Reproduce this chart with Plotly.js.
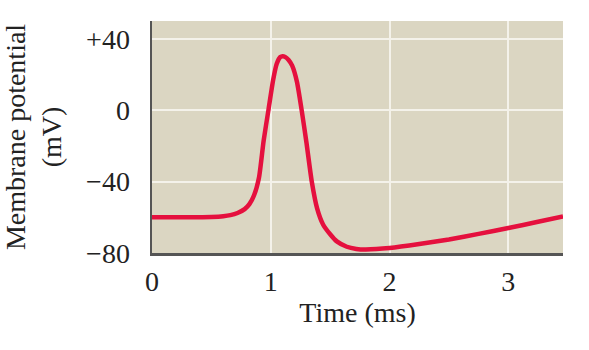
<!DOCTYPE html>
<html>
<head>
<meta charset="utf-8">
<script src="https://cdn.plot.ly/plotly-3.0.1.min.js"></script>
<style>html,body{margin:0;padding:0;background:#fff;}#chart{width:589px;height:350px;}</style>
</head>
<body>
<div id="chart"></div>
<script>
const timeMs = [0, 0.3, 0.5, 0.6, 0.66, 0.72, 0.78, 0.82, 0.86, 0.9, 0.94, 0.98, 1.02, 1.05, 1.08, 1.1, 1.12, 1.15, 1.18, 1.22, 1.26, 1.3, 1.345, 1.39, 1.44, 1.5, 1.556, 1.64, 1.72, 1.8, 2.0, 2.25, 2.5, 2.75, 3.0, 3.25, 3.46];
const potential = [-60, -60, -59.8, -59.4, -58.8, -57.6, -55.4, -52.6, -47.5, -38, -17, 0, 17, 26, 29.8, 30.3, 29.9, 28.2, 25, 16, 0, -18, -40, -55, -64, -69.5, -73.5, -76.5, -77.7, -78, -77.2, -75, -72.4, -69.3, -66, -62.5, -59.5];
const xTickVals = [0, 1, 2, 3];
const xTickText = ['0', '1', '2', '3'];
const yTickVals = [-80, -40, 0, 40];
const yTickText = ['\u221280', '\u221240', '0', '+40'];

const serif = 'Liberation Serif, Times New Roman, serif';
const trace = {
  x: timeMs, y: potential, type: 'scatter', mode: 'lines',
  line: {color: '#e5103e', width: 4.5, shape: 'spline', smoothing: 0.6},
  hoverinfo: 'skip'
};
const layout = {
  width: 589, height: 350,
  margin: {l: 152, r: 26, t: 21, b: 97},
  paper_bgcolor: '#ffffff',
  plot_bgcolor: '#dbd6c2',
  showlegend: false,
  xaxis: {
    range: [0, 3.46], tickvals: xTickVals, ticktext: xTickText,
    showgrid: true, gridcolor: '#f4f2ea', gridwidth: 2,
    showline: true, linecolor: '#555555', linewidth: 2.5,
    ticks: '', ticklabelstandoff: 2, zeroline: false,
    tickfont: {family: serif, size: 28, color: '#222'},
    title: {text: 'Time (ms)', font: {family: serif, size: 28, color: '#222'}, standoff: 4}
  },
  yaxis: {
    range: [-80, 50], tickvals: yTickVals, ticktext: yTickText,
    showgrid: true, gridcolor: '#f4f2ea', gridwidth: 2,
    showline: true, linecolor: '#555555', linewidth: 2.5,
    ticks: '', ticklabelstandoff: 14, zeroline: false,
    tickfont: {family: serif, size: 28, color: '#222'},
    title: {text: 'Membrane potential<br>(mV)', font: {family: serif, size: 28, color: '#222'}, standoff: 20}
  }
};
Plotly.newPlot('chart', [trace], layout, {displayModeBar: false, staticPlot: true});
</script>
</body>
</html>
